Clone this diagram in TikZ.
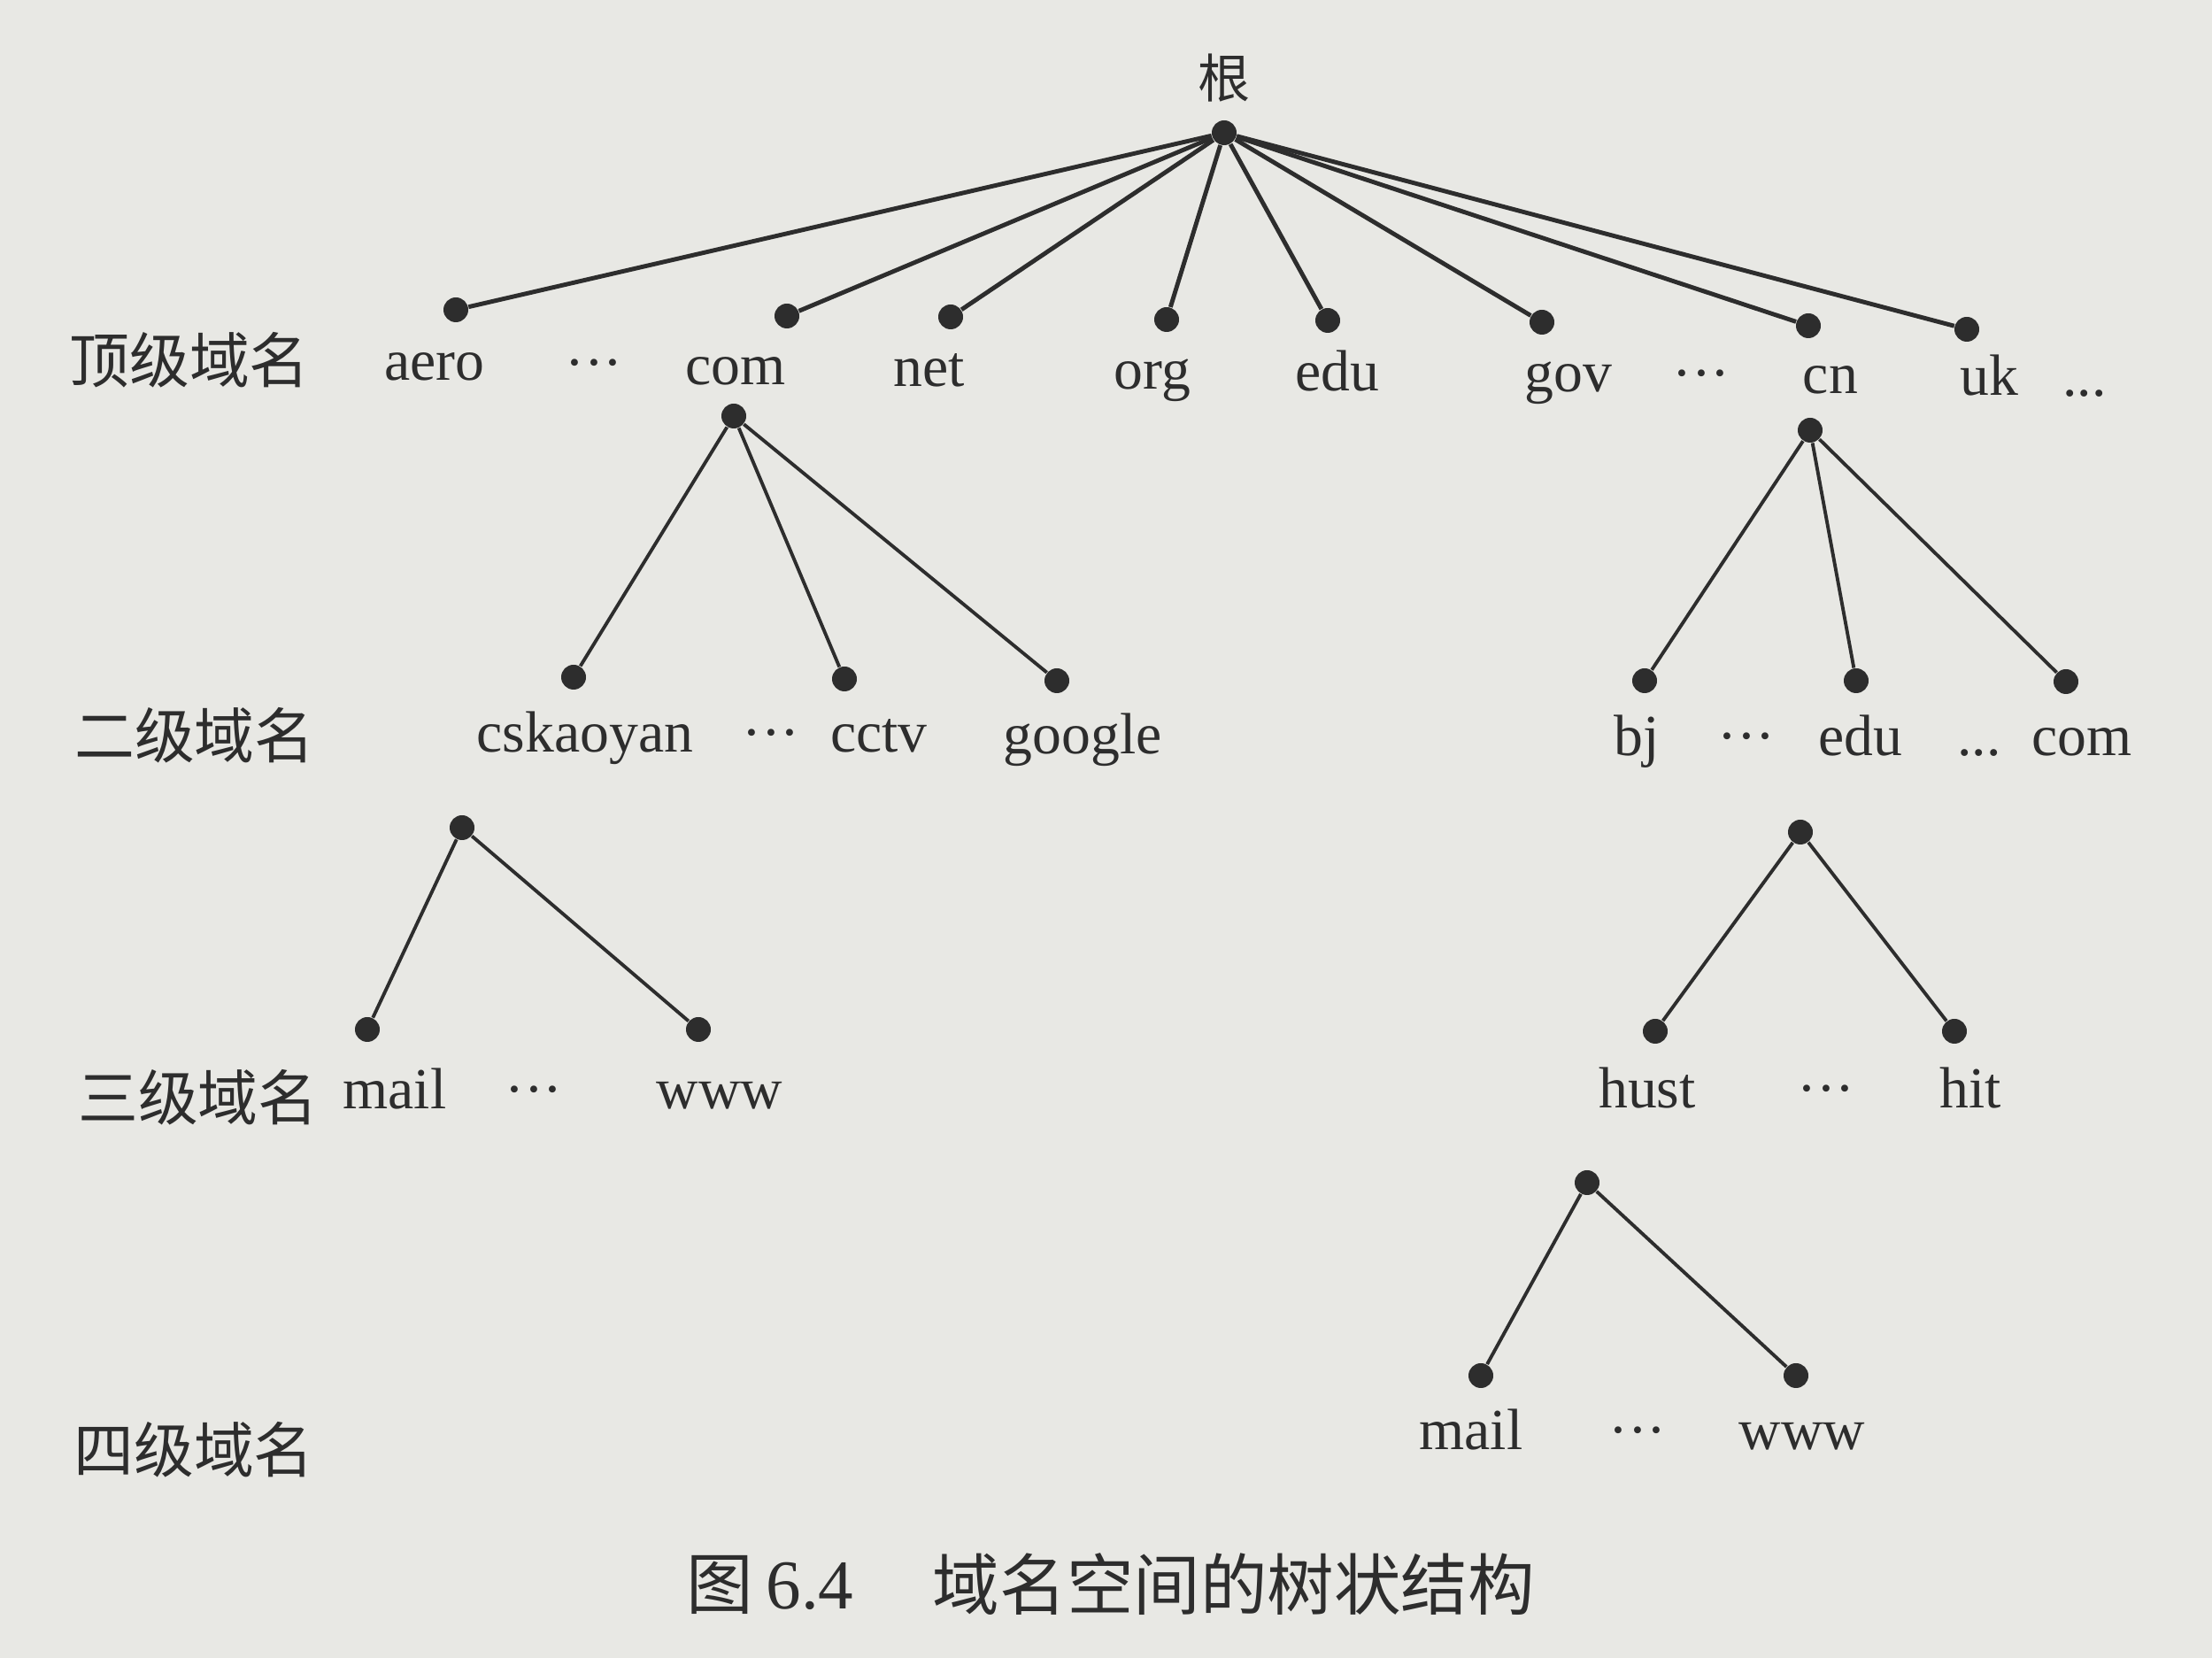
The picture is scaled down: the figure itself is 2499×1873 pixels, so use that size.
\documentclass[tikz,border=0pt]{standalone}
\usepackage{fontspec}
\setmainfont{Liberation Serif}
\newfontfamily\cjk{Noto Sans CJK SC}
\definecolor{paper}{RGB}{232,232,228}
\definecolor{ink}{RGB}{45,45,45}
\begin{document}
\begin{tikzpicture}[x=0.1mm,y=-0.1mm,
  tdot/.style={circle, fill=ink, draw=none, inner sep=0pt, minimum size=2.8mm},
  lbl/.style={font=\fontsize{18.7}{21}\selectfont, text=ink, inner sep=0pt, anchor=base},
  cjklbl/.style={font=\cjk\fontsize{19.3}{22}\selectfont, text=ink, inner sep=0pt},
  link/.style={draw=ink, line width=1.1pt},
  toplink/.style={draw=ink, line width=1.4pt}]
\fill[paper] (0,0) rectangle (2499,1873);
\useasboundingbox (0,0) rectangle (2499,1873);

% root
\node[cjklbl, font=\cjk\fontsize{16.8}{18}\selectfont] (rootlbl) at (1383,88) {根};
\node[tdot] (root) at (1383,150) {};

% top level dots
\node[tdot] (aero) at (515,350) {};
\node[tdot] (com) at (889,357) {};
\node[tdot] (net) at (1074,358) {};
\node[tdot] (org) at (1318,361) {};
\node[tdot] (edu) at (1500,362) {};
\node[tdot] (gov) at (1742,364) {};
\node[tdot] (cn) at (2043,368) {};
\node[tdot] (uk) at (2222,372) {};

\foreach \t in {aero,com,net,org,edu,gov,cn,uk}
  \draw[toplink] (root) -- (\t);

% top level labels
\node[cjklbl] (row1) at (214,407) {顶级域名};
\node[lbl] (laero) at (491,430) {aero};
\node[lbl] (ldota) at (671,432) {···};
\node[lbl] (lcom) at (831,435) {com};
\node[lbl] (lnet) at (1050,437) {net};
\node[lbl] (lorg) at (1302,440) {org};
\node[lbl] (ledu) at (1511,442) {edu};
\node[lbl] (lgov) at (1772,443) {gov};
\node[lbl] (ldotb) at (1922,444) {···};
\node[lbl] (lcn) at (2068,445) {cn};
\node[lbl] (luk) at (2247,447) {uk};
\node[lbl] (ldotc) at (2355,448) {...};

% second level
\node[tdot] (comsub) at (829,470) {};
\node[tdot] (cnsub) at (2045,486) {};
\node[tdot] (csk) at (648,765) {};
\node[tdot] (cctv) at (954,767) {};
\node[tdot] (google) at (1194,769) {};
\node[tdot] (bj) at (1858,769) {};
\node[tdot] (edutwo) at (2097,769) {};
\node[tdot] (comtwo) at (2334,770) {};
\foreach \t in {csk,cctv,google} \draw[link] (comsub) -- (\t);
\foreach \t in {bj,edutwo,comtwo} \draw[link] (cnsub) -- (\t);

\node[cjklbl] (row2) at (220,831) {二级域名};
\node[lbl] (lcsk) at (661,850) {cskaoyan};
\node[lbl] (ldotd) at (871,850) {···};
\node[lbl] (lcctv) at (993,850) {cctv};
\node[lbl] (lgoogle) at (1223,852) {google};
\node[lbl] (lbj) at (1849,854) {bj};
\node[lbl] (ldote) at (1973,854) {···};
\node[lbl] (ledutwo) at (2102,854) {edu};
\node[lbl] (ldotf) at (2236,854) {...};
\node[lbl] (lcomtwo) at (2352,854) {com};

% third level
\node[tdot] (csksub) at (522,935) {};
\node[tdot] (edusub) at (2034,940) {};
\node[tdot] (mail) at (415,1163) {};
\node[tdot] (www) at (789,1163) {};
\node[tdot] (hust) at (1870,1165) {};
\node[tdot] (hit) at (2208,1165) {};
\draw[link] (csksub) -- (mail);
\draw[link] (csksub) -- (www);
\draw[link] (edusub) -- (hust);
\draw[link] (edusub) -- (hit);

\node[cjklbl] (row3) at (224,1240) {三级域名};
\node[lbl] (lmail) at (446,1253) {mail};
\node[lbl] (ldotg) at (603,1253) {···};
\node[lbl] (lwww) at (813,1253) {www};
\node[lbl] (lhust) at (1861,1252) {hust};
\node[lbl] (ldoth) at (2063,1252) {···};
\node[lbl] (lhit) at (2226,1252) {hit};

% fourth level
\node[tdot] (hustsub) at (1793,1336) {};
\node[tdot] (mailtwo) at (1673,1554) {};
\node[tdot] (wwwtwo) at (2029,1554) {};
\draw[link] (hustsub) -- (mailtwo);
\draw[link] (hustsub) -- (wwwtwo);

\node[cjklbl] (row4) at (219,1638) {四级域名};
\node[lbl] (lmailtwo) at (1662,1638) {mail};
\node[lbl] (ldoti) at (1850,1638) {···};
\node[lbl] (lwwwtwo) at (2036,1638) {www};

% caption
\node[cjklbl, font=\cjk\fontsize{21.5}{24}\selectfont] (capa) at (813,1790) {图};
\node[lbl, anchor=center, font=\fontsize{22.5}{24}\selectfont] (capb) at (915,1792) {6.4};
\node[cjklbl, font=\cjk\fontsize{21.5}{24}\selectfont] (capc) at (1394,1790) {域名空间的树状结构};
\end{tikzpicture}
\end{document}
